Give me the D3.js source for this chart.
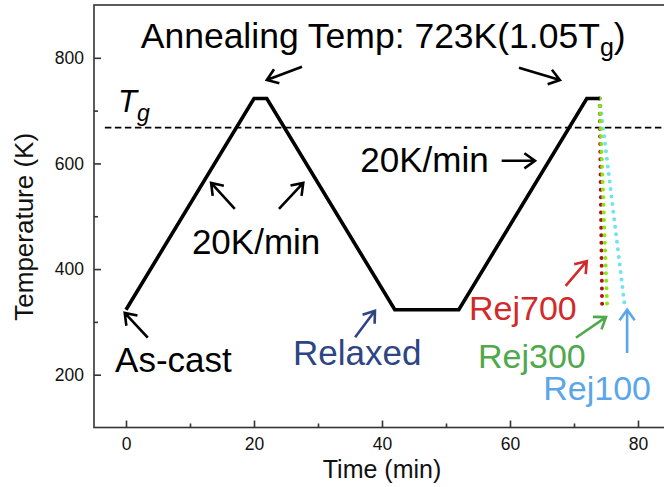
<!DOCTYPE html>
<html>
<head>
<meta charset="utf-8">
<script src="https://cdn.jsdelivr.net/npm/d3@7"></script>
<style>
body{margin:0;background:#fff}
text{font-family:"Liberation Sans",Arial,sans-serif}
</style>
</head>
<body>
<svg id="canvas"></svg>
<script>
let width = 664
let height = 487

// heating / annealing schedule
let times = [0, 20, 22, 42, 52, 72, 74]
let temps = [323, 723, 723, 323, 323, 723, 723]
let tg = 668

// rejuvenation quenches, drawn back to front
let quenchNames = ['Rej100', 'Rej700', 'Rej300']
let quenchStart = [74, 723]
let quenchEndTime = [78, 74.4, 75.2]
let quenchEndTemp = 323
let quenchColors = ['#6fe4ee', '#b3121c', '#86ea10']

let xTicks = [0, 20, 40, 60, 80]
let xMinor = [10, 30, 50, 70]
let yTicks = [200, 400, 600, 800]
let yMinor = [300, 500, 700]

// annotation labels: text, time, temp, colour
let labelText = ['20K/min', '20K/min', 'As-cast', 'Relaxed', 'Rej700', 'Rej300', 'Rej100']
let labelT = [10.3, 36.6, -1.7, 26.1, 53.6, 55, 65.2]
let labelK = [428, 584, 205, 218, 304, 213, 152]
let labelColor = ['#000', '#000', '#000', '#2e4584', '#d12a2a', '#4fa84b', '#5ba6ea']

// arrows: from (t,K) to (t,K), head at the end
let arrowFrom = [[27.5, 783], [61.4, 781], [58.7, 605], [17.0, 514], [23.9, 514], [3.4, 270], [35.8, 271], [68.7, 368], [70.3, 270], [78.3, 241]]
let arrowTo = [[22.0, 758], [67.8, 758], [63.9, 605], [13.3, 563], [27.7, 563], [-0.2, 317], [38.9, 321], [72.0, 415], [75.0, 309], [78.3, 323]]
let arrowColor = ['#000', '#000', '#000', '#000', '#000', '#000', '#2e4584', '#d12a2a', '#4fa84b', '#5ba6ea']

let canvas = d3.select('#canvas').attr('width', width).attr('height', height)

let xScale = d3.scaleLinear().domain([-5, 85]).range([94, 670])
let yScale = d3.scaleLinear().domain([100, 900]).range([427.5, 5])

// frame
canvas.append('rect')
  .attr('x', xScale(-5)).attr('y', yScale(900))
  .attr('width', xScale(85) - xScale(-5)).attr('height', yScale(100) - yScale(900))
  .attr('fill', 'none').attr('stroke', '#333').attr('stroke-width', 1.6)

let drawAxes = () => {
  let xAxis = d3.axisBottom(xScale).tickValues(xTicks).tickSize(-7).tickPadding(10)
  canvas.append('g').attr('transform', `translate(0,${yScale(100)})`).call(xAxis)
  canvas.append('g').attr('transform', `translate(0,${yScale(100)})`)
    .call(d3.axisBottom(xScale).tickValues(xMinor).tickSize(-4).tickFormat(''))

  let yAxis = d3.axisLeft(yScale).tickValues(yTicks).tickSize(-7).tickPadding(10)
  canvas.append('g').attr('transform', `translate(${xScale(-5)},0)`).call(yAxis)
  canvas.append('g').attr('transform', `translate(${xScale(-5)},0)`)
    .call(d3.axisLeft(yScale).tickValues(yMinor).tickSize(-4).tickFormat(''))

  canvas.selectAll('.domain').remove()
  canvas.selectAll('.tick line').attr('stroke', '#333').attr('stroke-width', 1.6)
  canvas.selectAll('.tick text').attr('font-size', 17.5).attr('fill', '#111')
    .style('font-family', '"Liberation Sans",Arial,sans-serif')

  canvas.append('text')
    .attr('x', xScale(40)).attr('y', 478)
    .attr('text-anchor', 'middle').attr('font-size', 25).attr('fill', '#111')
    .text('Time (min)')

  canvas.append('text')
    .attr('transform', `translate(33,${yScale(480)}) rotate(-90)`)
    .attr('text-anchor', 'middle').attr('font-size', 26).attr('fill', '#111')
    .text('Temperature (K)')
}

let drawLines = () => {
  // Tg dashed line
  canvas.append('line')
    .attr('x1', xScale(-3.3)).attr('x2', xScale(85))
    .attr('y1', yScale(tg)).attr('y2', yScale(tg))
    .attr('stroke', '#000').attr('stroke-width', 1.8).attr('stroke-dasharray', '6.5,3.5')

  let line = d3.line().x(d => xScale(d[0])).y(d => yScale(d[1]))

  canvas.selectAll('.quench')
    .data(quenchNames)
    .enter()
    .append('path')
    .attr('class', 'quench')
    .attr('d', (d, i) => line([quenchStart, [quenchEndTime[i], quenchEndTemp]]))
    .attr('fill', 'none')
    .attr('stroke', (d, i) => quenchColors[i])
    .attr('stroke-width', 4)
    .attr('stroke-linecap', 'round')
    .attr('stroke-dasharray', '0,7.6')

  canvas.append('path')
    .attr('d', line(times.map((t, i) => [t, temps[i]])))
    .attr('fill', 'none').attr('stroke', '#000').attr('stroke-width', 3.6)
    .attr('stroke-linejoin', 'miter')
}

let drawNotes = () => {
  canvas.selectAll('.arrow')
    .data(arrowFrom)
    .enter()
    .append('path')
    .attr('class', 'arrow')
    .attr('d', (d, i) => {
      let x1 = xScale(d[0]), y1 = yScale(d[1])
      let x2 = xScale(arrowTo[i][0]), y2 = yScale(arrowTo[i][1])
      let a = Math.atan2(y2 - y1, x2 - x1)
      let h = 13, w = 0.62
      let ax = x2 - h * Math.cos(a - w), ay = y2 - h * Math.sin(a - w)
      let bx = x2 - h * Math.cos(a + w), by = y2 - h * Math.sin(a + w)
      return `M${x1},${y1}L${x2},${y2}M${ax},${ay}L${x2},${y2}L${bx},${by}`
    })
    .attr('fill', 'none')
    .attr('stroke', (d, i) => arrowColor[i])
    .attr('stroke-width', 2.6)

  canvas.selectAll('.note')
    .data(labelText)
    .enter()
    .append('text')
    .attr('class', 'note')
    .attr('x', (d, i) => xScale(labelT[i]))
    .attr('y', (d, i) => yScale(labelK[i]))
    .attr('font-size', (d, i) => i < 4 ? 35 : 34)
    .attr('fill', (d, i) => labelColor[i])
    .text(d => d)

  let title = canvas.append('text')
    .attr('x', xScale(2.3)).attr('y', yScale(819))
    .attr('font-size', 35.5).attr('fill', '#000')
  title.append('tspan').text('Annealing Temp: 723K(1.05T')
  title.append('tspan').attr('font-size', 25).attr('dy', 8).text('g')
  title.append('tspan').attr('dy', -8).text(')')

  let tgLabel = canvas.append('text')
    .attr('x', xScale(-1.25)).attr('y', yScale(697))
    .attr('font-size', 31).attr('font-style', 'italic').attr('fill', '#000')
  tgLabel.append('tspan').text('T')
  tgLabel.append('tspan').attr('font-size', 23).attr('dy', 9).text('g')
}

drawAxes()
drawLines()
drawNotes()
</script>
</body>
</html>
